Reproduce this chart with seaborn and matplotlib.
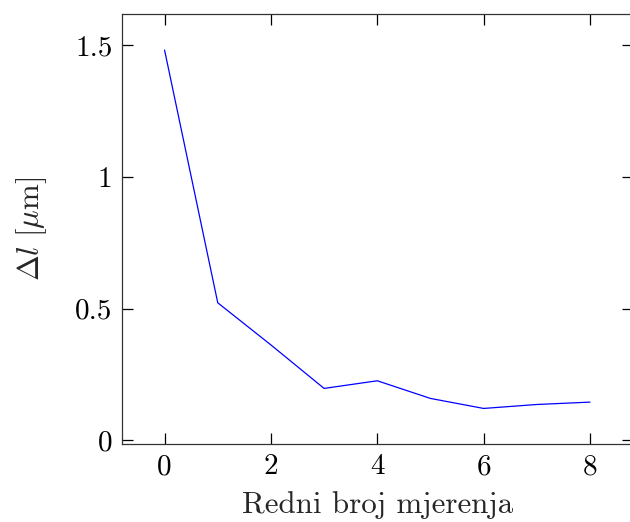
import numpy as np
import pandas as pd
import matplotlib
matplotlib.use("Agg")
import matplotlib.pyplot as plt
import seaborn as sns

# podaci
mjerenje = [0, 1, 2, 3, 4, 5, 6, 7, 8]
delta_l = [1.481, 0.522, 0.362, 0.197, 0.226, 0.159, 0.121, 0.136, 0.145]

x_ticks = [0, 2, 4, 6, 8]
y_ticks = [0, 0.5, 1, 1.5]
y_tick_labels = ["0", "0.5", "1", "1.5"]

df = pd.DataFrame({"x": mjerenje, "y": delta_l})

sns.set_style("ticks")
plt.rcParams["font.family"] = ["cmr10", "DejaVu Serif"]
plt.rcParams["mathtext.fontset"] = "cm"
plt.rcParams["axes.formatter.use_mathtext"] = True

fig = plt.figure(figsize=(6.3, 5.22), dpi=100)
ax = fig.add_axes([0.1937, 0.1494, 0.8103, 0.8238])

sns.lineplot(data=df, x="x", y="y", ax=ax, color="#0000ff", linewidth=0.9)

ax.set_xlim(-0.8, 8.8)
ax.set_ylim(-0.014, 1.618)
ax.set_xticks(x_ticks)
ax.set_xticklabels([str(t) for t in x_ticks])
ax.set_yticks(y_ticks)
ax.set_yticklabels(y_tick_labels)

ax.tick_params(direction="in", length=8, width=0.9, labelsize=21,
               top=True, right=True, pad=7, colors="black")
for s in ax.spines.values():
    s.set_linewidth(0.9)
    s.set_color("#333333")
    s.set_visible(True)

ax.set_xlabel("Redni broj mjerenja", fontsize=22.3, labelpad=8)
ax.set_ylabel(r"$\Delta l\ [\mathrm{\mu m}]$", fontsize=22.3, labelpad=19)

fig.savefig("out.png", dpi=100)
